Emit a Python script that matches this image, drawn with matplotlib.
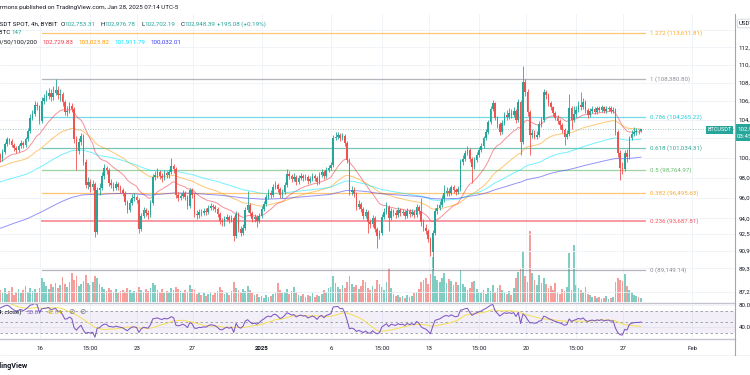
import numpy as np
import pandas as pd
import matplotlib
matplotlib.use("Agg")
import matplotlib.pyplot as plt
import matplotlib.dates as mdates
from matplotlib.lines import Line2D
from matplotlib.patches import Rectangle
from matplotlib.ticker import NullLocator, NullFormatter

plt.rcParams['font.family'] = ['Roboto', 'DejaVu Sans']

# BTCUSDT spot, 4h candles (UTC-5), prices in thousands of USDT
first_time = "2024-12-10 19:00"
first_open = 96.3
closes = [
    96.8, 97.4, 97.0, 98.1, 99.3, 99.9,
    100.6, 101.2, 100.7, 100.0, 99.6, 100.2,
    99.7, 100.3, 99.9, 100.6, 101.4, 101.9,
    101.7, 101.3, 101.0, 100.8, 101.2, 101.5,
    101.3, 101.9, 102.8, 104.2, 104.6, 105.6,
    105.4, 103.8, 106.0, 106.3, 106.5, 106.9,
    106.4, 106.9, 107.2, 106.6, 106.7, 105.9,
    104.8, 104.9, 105.5, 105.1, 101.9, 100.7,
    101.6, 102.3, 99.6, 97.3, 97.6, 97.1,
    97.4, 92.7, 96.8, 97.0, 98.2, 99.0,
    98.8, 97.5, 97.3, 97.0, 97.4, 97.1,
    96.8, 96.5, 95.6, 94.8, 95.5, 96.0,
    96.1, 95.8, 93.0, 94.2, 94.8, 94.5,
    94.3, 95.5, 98.1, 98.3, 98.6, 98.2,
    98.0, 98.5, 98.3, 98.6, 99.2, 98.9,
    96.3, 96.0, 96.2, 96.5, 96.1, 95.2,
    96.8, 96.3, 94.4, 94.3, 94.6, 94.5,
    94.7, 94.6, 95.0, 95.2, 95.1, 94.9,
    94.4, 93.7, 93.6, 93.9, 94.1, 93.8,
    94.0, 92.3, 94.4, 93.0, 92.6, 93.1,
    94.8, 95.3, 94.5, 93.9, 94.1, 93.7,
    94.2, 94.9, 95.4, 96.1, 96.5, 96.3,
    97.1, 97.3, 96.9, 96.3, 96.6, 97.3,
    98.4, 98.2, 97.9, 98.1, 97.6, 98.0,
    98.2, 98.0, 98.1, 97.7, 97.9, 98.2,
    98.0, 97.6, 98.3, 98.6, 98.2, 98.8,
    99.0, 99.3, 102.1, 102.2, 102.4, 102.0,
    102.3, 101.5, 99.8, 96.6, 96.8, 96.4,
    95.1, 95.4, 94.9, 94.2, 94.6, 93.6,
    93.4, 94.0, 93.0, 92.3, 92.6, 94.1,
    94.6, 95.1, 94.0, 94.7, 94.5, 94.3,
    94.8, 94.5, 94.6, 94.2, 94.7, 94.4,
    94.6, 94.3, 95.1, 94.7, 93.6, 93.1,
    92.8, 92.0, 90.8, 92.6, 94.7, 95.0,
    95.3, 95.9, 96.5, 96.7, 96.5, 97.1,
    96.8, 96.6, 96.9, 99.6, 99.9, 100.5,
    100.8, 99.9, 99.1, 99.8, 100.3, 100.8,
    101.2, 102.0, 102.7, 103.7, 105.1, 105.8,
    104.2, 103.5, 102.7, 103.6, 104.5, 104.3,
    104.7, 104.5, 104.9, 103.9, 105.9, 101.6,
    108.1, 107.0, 104.8, 102.4, 102.6, 102.2,
    102.4, 103.5, 103.9, 107.0, 106.6, 105.8,
    105.3, 104.7, 104.2, 103.8, 103.4, 102.9,
    102.2, 102.5, 105.2, 104.0, 104.6, 105.0,
    105.6, 105.3, 105.9, 105.0, 104.5, 104.9,
    105.1, 104.8, 105.2, 105.0, 105.3, 104.9,
    105.1, 105.2, 104.9, 105.0, 102.7, 100.5,
    99.0, 98.9, 100.5, 100.1, 102.0, 102.5,
    102.7, 102.8, 102.75331, 102.94839,
]
highs = [
    97.1, 97.7, 97.6, 98.4, 99.6, 100.3,
    100.9, 101.5, 101.4, 100.9, 100.2, 100.5,
    100.4, 100.6, 100.5, 100.9, 101.6, 102.2,
    102.1, 101.9, 101.5, 101.2, 101.4, 101.8,
    101.7, 102.2, 103.1, 104.6, 105.0, 106.0,
    105.9, 105.6, 106.4, 106.8, 107.2, 107.4,
    107.3, 107.6, 108.3808, 107.6, 107.3, 107.0,
    106.1, 105.4, 105.9, 105.8, 105.3, 102.3,
    102.0, 102.6, 102.5, 99.9, 98.1, 97.9,
    97.8, 97.6, 97.1, 97.5, 98.6, 99.4,
    99.2, 99.0, 97.9, 97.6, 97.7, 97.6,
    97.3, 97.0, 96.7, 95.8, 95.9, 96.4,
    96.5, 96.3, 96.0, 94.5, 95.1, 95.0,
    94.8, 95.8, 98.4, 98.7, 99.0, 98.8,
    98.5, 98.8, 98.7, 98.9, 99.97, 99.4,
    99.1, 96.6, 96.5, 96.8, 96.7, 96.3,
    97.0, 97.0, 96.5, 94.8, 94.9, 94.9,
    95.0, 95.0, 95.3, 95.5, 95.4, 95.3,
    95.1, 94.6, 94.0, 94.2, 94.4, 94.3,
    94.3, 94.2, 94.7, 94.6, 93.3, 93.4,
    95.1, 96.7, 95.5, 94.7, 94.4, 94.3,
    94.5, 95.2, 95.7, 96.4, 96.9, 96.8,
    97.4, 97.7, 97.5, 97.1, 96.9, 97.6,
    98.9, 98.7, 98.4, 98.5, 98.3, 98.3,
    98.5, 98.4, 98.4, 98.3, 98.2, 98.5,
    98.4, 98.2, 98.6, 98.9, 98.8, 99.1,
    99.3, 99.6, 102.4, 102.7, 102.7, 102.6,
    102.6, 102.5, 101.7, 100.0, 97.2, 97.1,
    96.6, 95.8, 95.6, 95.1, 94.9, 94.8,
    93.9, 94.3, 94.2, 93.2, 92.9, 94.4,
    95.0, 95.6, 95.3, 95.0, 94.9, 94.8,
    95.1, 95.0, 94.9, 94.8, 95.0, 94.9,
    94.9, 94.8, 95.4, 95.3, 96.0, 93.9,
    93.4, 93.0, 92.2, 92.9, 95.0, 95.4,
    95.7, 96.3, 97.3, 97.1, 97.0, 97.3,
    97.3, 97.0, 97.2, 99.9, 100.3, 100.8,
    101.2, 101.0, 100.1, 100.1, 100.6, 101.1,
    101.5, 102.3, 103.0, 104.0, 105.4, 106.1,
    105.9, 104.4, 103.7, 103.9, 104.8, 105.0,
    105.2, 105.1, 105.3, 105.1, 106.2, 106.1,
    109.9, 108.4, 107.3, 105.0, 103.0, 102.9,
    102.8, 103.8, 104.3, 107.3, 107.2, 106.9,
    106.0, 105.5, 104.9, 104.5, 104.1, 103.6,
    103.1, 102.9, 106.8, 105.4, 105.5, 105.4,
    106.0, 107.0, 106.3, 106.1, 105.2, 105.2,
    105.4, 105.3, 105.5, 105.4, 105.6, 105.5,
    105.4, 105.5, 105.4, 105.3, 105.2, 102.9,
    100.8, 99.6, 100.8, 100.9, 102.3, 102.9,
    103.2, 103.1, 103.0, 102.97678,
]
lows = [
    96.0, 96.6, 96.7, 96.9, 97.9, 99.0,
    99.7, 100.4, 100.4, 99.7, 99.3, 99.4,
    99.5, 99.5, 99.6, 99.7, 100.4, 101.2,
    101.4, 101.1, 100.7, 100.5, 100.6, 101.0,
    101.0, 101.1, 101.7, 102.6, 104.0, 104.4,
    105.0, 103.5, 103.6, 105.7, 106.0, 106.2,
    106.0, 106.1, 106.6, 106.2, 106.0, 105.5,
    104.5, 104.4, 104.7, 104.8, 101.5, 98.8,
    100.4, 101.3, 99.3, 97.0, 96.9, 96.6,
    96.8, 92.2, 92.5, 96.3, 96.8, 97.9,
    98.4, 97.2, 97.0, 96.7, 96.8, 96.8,
    96.5, 96.2, 95.3, 94.5, 94.6, 95.3,
    95.7, 95.5, 92.6, 92.8, 94.0, 94.2,
    93.9, 94.1, 95.3, 97.8, 98.0, 97.9,
    97.6, 97.8, 98.0, 98.0, 98.4, 98.5,
    96.0, 95.7, 95.8, 96.0, 95.8, 94.9,
    95.0, 96.0, 94.1, 93.9, 94.0, 94.2,
    94.3, 94.3, 94.4, 94.8, 94.8, 94.6,
    94.1, 93.4, 93.3, 93.3, 93.7, 93.5,
    93.6, 91.8, 92.1, 92.7, 92.3, 92.4,
    92.9, 94.6, 94.2, 93.6, 93.6, 93.2,
    93.5, 94.0, 94.7, 95.2, 95.9, 96.0,
    96.1, 96.9, 96.6, 96.0, 96.0, 96.4,
    97.1, 97.9, 97.6, 97.7, 97.3, 97.4,
    97.8, 97.7, 97.8, 97.4, 97.5, 97.7,
    97.7, 97.3, 97.4, 98.1, 97.9, 98.0,
    98.6, 98.8, 99.1, 101.8, 101.9, 101.7,
    101.8, 101.2, 99.5, 96.3, 96.3, 96.1,
    94.8, 94.9, 94.6, 93.9, 94.0, 92.6,
    93.1, 93.2, 92.7, 91.2, 92.0, 92.4,
    93.9, 94.4, 92.8, 93.8, 94.2, 94.0,
    94.1, 94.2, 94.3, 93.9, 94.0, 94.1,
    94.2, 94.0, 94.1, 94.4, 93.3, 92.8,
    92.5, 91.7, 90.4, 89.14914, 92.4, 94.4,
    94.8, 95.1, 95.6, 96.2, 96.2, 96.3,
    96.5, 96.3, 96.4, 96.7, 99.3, 99.7,
    100.3, 99.6, 97.5, 98.9, 99.6, 100.1,
    100.6, 101.0, 101.8, 102.5, 103.5, 104.9,
    103.9, 103.1, 102.4, 102.5, 103.4, 104.0,
    104.1, 104.2, 104.3, 103.6, 103.7, 100.3,
    101.4, 106.5, 104.4, 100.3, 102.0, 101.9,
    101.9, 102.2, 103.2, 103.7, 106.2, 105.5,
    105.0, 104.4, 103.9, 103.5, 103.0, 102.6,
    101.3, 101.9, 102.3, 103.0, 103.7, 104.3,
    104.8, 105.0, 105.1, 104.7, 104.2, 104.3,
    104.7, 104.6, 104.6, 104.8, 104.8, 104.7,
    104.7, 104.9, 104.7, 104.7, 102.4, 100.1,
    97.8, 98.4, 98.7, 99.6, 99.9, 101.8,
    102.3, 102.4, 102.5, 102.70219,
]
volumes = [
    480, 520, 400, 560, 640, 440,
    520, 600, 380, 460, 420, 500,
    500, 360, 480, 360, 560, 320,
    440, 600, 280, 400, 520, 360,
    480, 640, 400, 560, 440, 520,
    360, 560, 960, 800, 640, 520,
    720, 600, 760, 560, 680, 1000,
    720, 600, 800, 1160, 880, 1040,
    640, 720, 840, 1080, 760, 680,
    800, 1040, 960, 720, 600, 520,
    440, 560, 480, 400, 520, 360,
    440, 480, 400, 560, 480, 360,
    440, 400, 600, 480, 400, 520,
    440, 560, 760, 680, 480, 400,
    520, 360, 440, 400, 560, 480,
    600, 520, 440, 360, 480, 400,
    680, 520, 480, 320, 400, 280,
    360, 240, 320, 400, 280, 360,
    440, 600, 480, 320, 400, 280,
    440, 800, 560, 480, 400, 520,
    440, 640, 480, 360, 280, 320,
    200, 240, 160, 280, 200, 240,
    320, 360, 760, 480, 360, 400,
    520, 320, 440, 600, 400, 280,
    240, 320, 200, 280, 240, 360,
    200, 280, 240, 320, 480, 400,
    560, 600, 1040, 760, 600, 520,
    680, 560, 800, 1040, 720, 600,
    680, 520, 640, 880, 800, 560,
    480, 640, 520, 880, 720, 600,
    480, 800, 1360, 560, 320, 240,
    280, 200, 240, 160, 280, 200,
    240, 360, 400, 520, 800, 880,
    960, 720, 1120, 1800, 1040, 880,
    800, 960, 1160, 760, 920, 840,
    680, 800, 680, 1280, 720, 600,
    480, 560, 800, 840, 520, 400,
    360, 480, 320, 560, 440, 680,
    400, 560, 680, 480, 360, 320,
    440, 280, 560, 960, 1200, 1360,
    2040, 1040, 800, 2840, 1160, 880,
    680, 1080, 760, 960, 720, 560,
    640, 480, 760, 400, 320, 520,
    440, 600, 1960, 480, 2280, 680,
    560, 480, 400, 600, 320, 280,
    200, 240, 160, 200, 120, 160,
    240, 120, 160, 200, 800, 960,
    880, 840, 1120, 640, 480, 400,
    280, 240, 200, 147,
]

ma_lengths = [20, 50, 100, 200]
ma_start = [99.2, 98.7, 96.9, 92.0]
ma_colors = ["#f23645", "#ff9800", "#00e5ff", "#3d3df0"]
ma_values_text = ["102,729.83", "103,023.82", "101,911.79", "100,032.01"]

fib_low = 89149.14
fib_high = 108380.80
fib_ratios = [1.272, 1, 0.786, 0.618, 0.5, 0.382, 0.236, 0]
fib_names = ["1.272", "1", "0.786", "0.618", "0.5", "0.382", "0.236", "0"]
fib_colors = ["#ff9800", "#787b86", "#00bcd4", "#089981", "#4caf50", "#ff9800", "#f23645", "#787b86"]

price_ticks = [87200, 89300, 90900, 92500, 94000, 96000, 98000, 100000,
               102000, 104000, 106000, 108000, 110000, 112000]
time_ticks = ["2024-12-16 00:00", "2024-12-19 15:00", "2024-12-23 00:00", "2024-12-27 00:00",
              "2025-01-01 00:00", "2025-01-06 00:00", "2025-01-09 15:00", "2025-01-13 00:00",
              "2025-01-16 15:00", "2025-01-20 00:00", "2025-01-23 15:00", "2025-01-27 00:00",
              "2025-02-01 00:00"]
time_labels = ["16", "15:00", "23", "27", "2025", "6", "15:00", "13", "15:00",
               "20", "15:00", "27", "Feb"]

header_title = "rmons published on TradingView.com, Jan 28, 2025 07:14 UTC-5"
symbol_text = "BTCUSDT SPOT, 4h, BYBIT"
ohlc_text = [("O", "102,753.31"), ("H", "102,976.78"), ("L", "102,702.19"), ("C", "102,948.39")]
change_text = "+195.08 (+0.19%)"
last_price = 102948.39

# ---------------------------------------------------------------
W, H = 750, 375
GREEN, RED = "#26a69a", "#ef5350"
TXT = "#131722"


def fx(px):
    return px / W


def fy(py):
    return 1 - py / H


t = pd.date_range(first_time, periods=len(closes), freq="4h")
x = mdates.date2num(t)
c = np.array(closes) * 1000
o = np.r_[first_open * 1000, c[:-1]]
hi = np.array(highs) * 1000
lo = np.array(lows) * 1000
vol = np.array(volumes, dtype=float)
up = c >= o
cols = np.where(up, GREEN, RED)

origin = mdates.date2num(pd.Timestamp("2024-12-16"))
xlim = (origin - 2.882, origin + 50.07)

fig = plt.figure(figsize=(7.5, 3.75), dpi=100)
ax_v = fig.add_axes([0, fy(302), fx(735), (302 - 14) / H])
ax = fig.add_axes([0, fy(302), fx(735), (302 - 14) / H])
ax_r = fig.add_axes([0, fy(338), fx(735), (338 - 303) / H])

# volume overlay
ax_v.bar(x, vol, width=0.125, color=np.where(up, "#7fcdc3", "#f59e9b"), linewidth=0)
ax_v.set_ylim(0, 288 * 40)
ax_v.set_xlim(*xlim)
ax_v.axis("off")

ax.patch.set_visible(False)
for s in ax.spines.values():
    s.set_visible(False)
ax.set_yscale("log")
ax.set_ylim(86270, 115870)
ax.set_xlim(*xlim)

tt = np.array([mdates.date2num(pd.Timestamp(s)) for s in time_ticks])
ax.set_xticks(tt)
ax.tick_params(axis="x", length=0, labelbottom=False)
ax.yaxis.tick_right()
ax.set_yticks(price_ticks)
ax.set_yticklabels([f"{v:,.2f}" for v in price_ticks])
ax.yaxis.set_minor_locator(NullLocator())
ax.yaxis.set_minor_formatter(NullFormatter())
ax.tick_params(axis="y", length=0, pad=2.5, labelsize=4.4, labelcolor=TXT)
ax.grid(True, color="#eef1f6", lw=0.6, zorder=0)
ax.axhline(114000, color="#eef1f6", lw=0.6, zorder=0)

# fibonacci retracement
fib_x0 = mdates.date2num(pd.Timestamp("2024-12-16 03:00"))
fib_x1 = mdates.date2num(pd.Timestamp("2025-01-28 14:00"))
for r, name, col in zip(fib_ratios, fib_names, fib_colors):
    lvl = fib_low + r * (fib_high - fib_low)
    lw = 1.3 if name == "0.236" else 0.9
    ax.plot([fib_x0, fib_x1], [lvl, lvl], color=col, lw=lw, alpha=0.55, zorder=2)
    ax.text(fib_x1 + 0.36, lvl, f"{name} ({lvl:,.2f})", color=col, fontsize=4.4,
            va="center", ha="left", alpha=0.85, zorder=5)

# moving averages
for n, s0, col in zip(ma_lengths, ma_start, ma_colors):
    a = 2 / (n + 1)
    e = np.empty(len(c))
    prev = s0 * 1000
    for i, v in enumerate(c):
        prev = prev + a * (v - prev)
        e[i] = prev
    ax.plot(x, e, color=col, lw=0.7, alpha=0.55, zorder=3)

# candles
ax.vlines(x, lo, hi, colors=cols, lw=0.6, zorder=4)
ax.bar(x, np.maximum(np.abs(c - o), 40), bottom=np.minimum(o, c), width=0.12,
       color=cols, linewidth=0, zorder=4)

ax.axhline(last_price, color="#7fb8b0", lw=0.6, ls=(0, (1, 2)), zorder=3)

# RSI pane
cs = pd.Series(c)
d = cs.diff()
gain = d.clip(lower=0).ewm(alpha=1 / 14, adjust=False).mean()
loss = (-d.clip(upper=0)).ewm(alpha=1 / 14, adjust=False).mean()
rsi = 100 - 100 / (1 + gain / loss)
rsi_ma = rsi.rolling(14).mean()

ax_r.set_xlim(*xlim)
ax_r.set_ylim(20.9, 84.5)
ax_r.axhspan(30, 70, color="#7e57c2", alpha=0.09, lw=0)
for lvl in (70, 50, 30):
    ax_r.axhline(lvl, color="#9598a1", lw=0.6, ls=(0, (3, 3)))
ax_r.plot(x, rsi_ma, color="#f5e05a", lw=0.75)
ax_r.plot(x, rsi, color="#7e57c2", lw=0.75)
for s in ax_r.spines.values():
    s.set_visible(False)
ax_r.set_xticks(tt)
ax_r.set_xticklabels(time_labels)
ax_r.tick_params(axis="x", length=0, pad=5.5, labelsize=4.4, labelcolor=TXT)
for lab in ax_r.get_xticklabels():
    if lab.get_text() == "2025":
        lab.set_fontweight("bold")
ax_r.yaxis.tick_right()
ax_r.set_yticks([40, 80])
ax_r.set_yticklabels(["40.00", "80.00"])
ax_r.tick_params(axis="y", length=0, pad=2.5, labelsize=4.4, labelcolor=TXT)
ax_r.grid(True, color="#eef1f6", lw=0.6)
ax_r.set_axisbelow(True)

# panel borders
for py in (302.5, 338.5):
    fig.add_artist(Line2D([0, fx(735)], [fy(py), fy(py)], color="#c3c6cd", lw=1.0))
fig.add_artist(Line2D([0, 1], [fy(355), fy(355)], color="#eef1f6", lw=0.6))
fig.add_artist(Line2D([fx(735), fx(735)], [fy(14), fy(355)], color="#a3a6af", lw=0.8))

# header
fs = 4.5
fig.text(0, fy(7.3), header_title, fontsize=fs, color=TXT, va="center", ha="left")
fig.text(fx(58), fy(24), symbol_text, fontsize=fs, color=TXT, va="center", ha="right")
xpos = 61
for lab, val in ohlc_text:
    fig.text(fx(xpos), fy(24), lab, fontsize=fs, color=TXT, va="center")
    fig.text(fx(xpos + 3.6), fy(24), val, fontsize=fs, color=GREEN, va="center")
    xpos += 40
fig.text(fx(217), fy(24), change_text, fontsize=fs, color=GREEN, va="center")
fig.text(fx(10), fy(32), "Vol · BTC", fontsize=fs, color=TXT, va="center", ha="right")
fig.text(fx(12), fy(32), f"{vol[-1]:.0f}", fontsize=fs, color=GREEN, va="center")
fig.text(fx(37.5), fy(42), "20/50/100/200", fontsize=fs, color=TXT, va="center", ha="right")
for i, (txt, col) in enumerate(zip(ma_values_text, ma_colors)):
    fig.text(fx(43 + 36 * i), fy(42), txt, fontsize=fs, color=col, va="center")

fig.text(fx(22), fy(312), "RSI (14, close)", fontsize=fs, color=TXT, va="center", ha="right")
fig.text(fx(27), fy(312), f"{rsi.iloc[-1]:.2f}", fontsize=fs, color="#7e57c2", va="center")
fig.text(fx(47), fy(312), f"{rsi_ma.iloc[-1]:.2f}", fontsize=fs, color="#d4b800", va="center")
fig.text(fx(68), fy(312), "⊘", fontsize=fs + 1, color="#787b86", va="center",
         family="DejaVu Sans")
fig.text(fx(79), fy(312), "⊘", fontsize=fs + 1, color="#787b86", va="center",
         family="DejaVu Sans")

fig.text(fx(28), fy(366), "TradingView", fontsize=5.2, color=TXT, va="center", ha="right",
         fontweight="bold")

# price labels on the right
fig.add_artist(Rectangle((fx(735), fy(141)), fx(20), 17 / H, color=GREEN, lw=0))
fig.text(fx(737), fy(129), f"{last_price:,.2f}", fontsize=4.4, color="white", va="center")
fig.text(fx(737), fy(137), "03:45:21", fontsize=4.4, color="white", va="center")
fig.add_artist(Rectangle((fx(706), fy(133.5)), fx(27), 7.5 / H, color=GREEN, lw=0))
fig.text(fx(719.5), fy(129.8), "BTCUSDT", fontsize=4.0, color="white", va="center",
         ha="center")
fig.text(fx(739), fy(23.5), "USDT", fontsize=4.4, color=TXT, va="center",
         bbox=dict(boxstyle="round,pad=0.3", fc="white", ec="#d1d4dc", lw=0.6))

fig.savefig("out.png", dpi=100)
